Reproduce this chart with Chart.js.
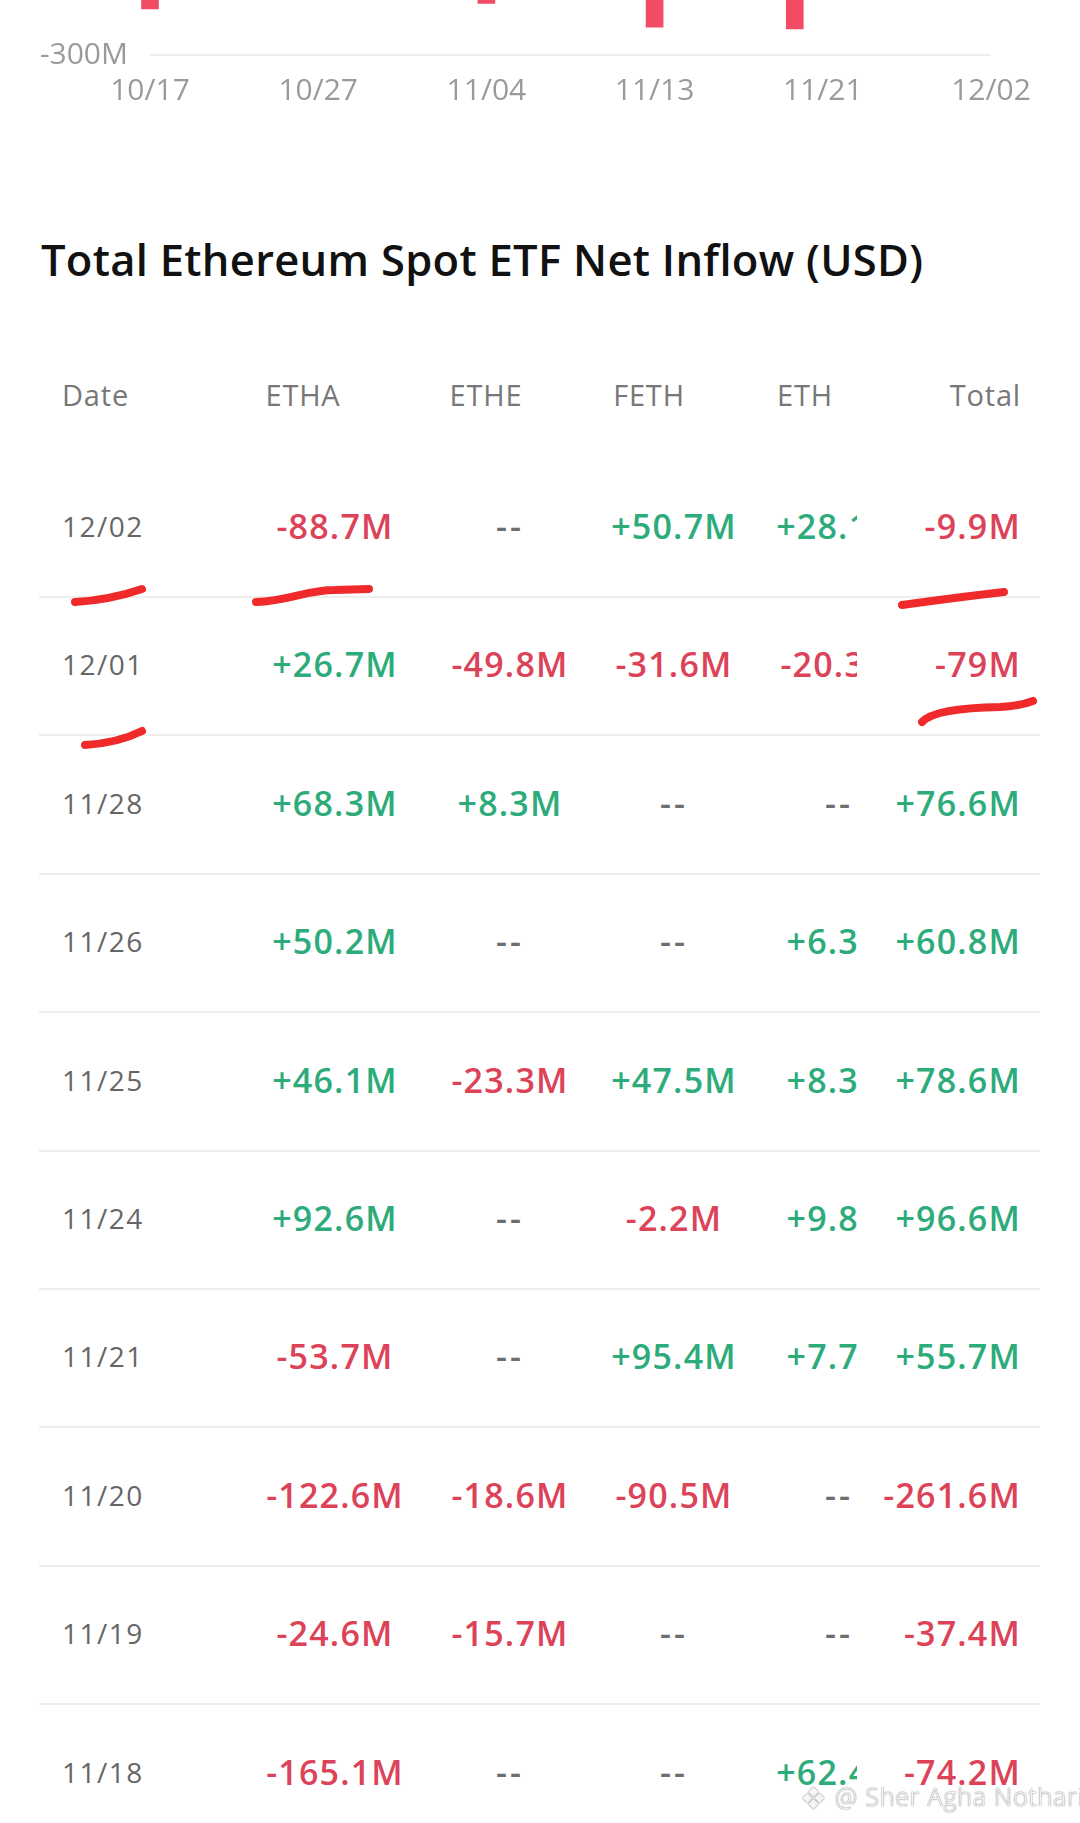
<!DOCTYPE html>
<html>
<head>
<meta charset="utf-8">
<script src="https://cdn.jsdelivr.net/npm/chart.js@4.4.0/dist/chart.umd.min.js"></script>
<style>
  html, body { margin:0; padding:0; background:#fff; }
  body { width:1080px; height:1823px; position:relative; overflow:hidden; font-family:"Open Sans", sans-serif; }
  #chartWrap { position:absolute; left:0; width:1080px; height:520px; }
  #title { position:absolute; left:41px; top:230px; font-size:43.5px; font-weight:600; color:#111; white-space:nowrap; letter-spacing:0.3px; }
  .hdr { position:absolute; font-size:29px; color:#777; white-space:nowrap; line-height:40px; letter-spacing:0.8px; }
  .cell { position:absolute; white-space:nowrap; line-height:46px; font-size:34px; font-weight:600; letter-spacing:1.2px; }
  .date { font-weight:400; color:#666; font-size:28px; letter-spacing:1.5px; }
  .dash { letter-spacing:3px; }
  .sep { position:absolute; left:39px; width:1001px; height:2px; background:#eeeeee; }
  .clipbox { position:absolute; overflow:hidden; height:46px; }
  #marks { position:absolute; left:0; top:0; }
  #wmLogo { position:absolute; left:800px; top:1777px; font-size:30px; color:rgba(255,255,255,0.9);
        text-shadow: 0 0 1px #999, 0 0 1px #999, 0 0 2px rgba(0,0,0,0.3); }
  #wm { position:absolute; left:835px; top:1779px; font-size:25px; font-weight:300; color:rgba(255,255,255,0.9); white-space:nowrap; letter-spacing:0.8px;
        text-shadow: 0 0 1px #999, 0 0 1px #999, 0 0 2px rgba(0,0,0,0.3); }
</style>
</head>
<body>
<div id="chartWrap"><canvas id="c"></canvas></div>
<div id="title">Total Ethereum Spot ETF Net Inflow (USD)</div>
<div id="table"></div>
<svg id="marks" width="1080" height="1823"></svg>
<div id="wmLogo">&#x2756;</div>
<div id="wm">@ Sher Agha Nothari</div>
<script>
// ---- Bar chart data (daily total net inflow, $M) ----
const barDates = ['10/17','10/20','10/21','10/22','10/23','10/24','10/27','10/28','10/29','10/30','10/31',
                  '11/03','11/04','11/05','11/06','11/07','11/10','11/12','11/13','11/14','11/17',
                  '11/18','11/19','11/20','11/21','11/24','11/25','11/26','11/28','12/01','12/02'];
const barValues = [-232.3, -145.7, 141.7, -18.8, -93.6, -4.6, 133.9, 246.0, -81.4, -184.2, -98.2,
                   -135.8, -224.0, -118.5, 12.5, 46.6, 105.2, -183.7, -259.0, -177.9, -182.8,
                   -74.2, -37.4, -261.6, 55.7, 96.6, 78.6, 60.8, 76.6, -79.0, -9.9];
const yTicks = [-300, 0, 300];

// ---- Table data ----
const tableHeaders = ['Date','ETHA','ETHE','FETH','ETH','Total'];
const rowDates = ['12/02','12/01','11/28','11/26','11/25','11/24','11/21','11/20','11/19','11/18'];
const ethaVals = [-88.7, 26.7, 68.3, 50.2, 46.1, 92.6, -53.7, -122.6, -24.6, -165.1];
const etheVals = [null, -49.8, 8.3, null, -23.3, null, null, -18.6, -15.7, null];
const fethVals = [50.7, -31.6, null, null, 47.5, -2.2, 95.4, -90.5, null, null];
const ethVals  = [28.1, -20.3, null, 6.3, 8.3, 9.8, 7.7, null, null, 62.4];
const totalVals = [-9.9, -79, 76.6, 60.8, 78.6, 96.6, 55.7, -261.6, -37.4, -74.2];

const RED = '#dc4359', GREEN = '#2dab7b', DASH = '#6e6e6e';

// ---- Chart ----
const AXIS_Y = 55; // page y of -300M gridline
const chart = new Chart(document.getElementById('c'), {
  type: 'bar',
  data: {
    labels: barDates,
    datasets: [{
      data: barValues,
      backgroundColor: barValues.map(v => v < 0 ? '#f24b64' : '#2dab7b'),
      barThickness: 17,
      clip: false
    }]
  },
  options: {
    responsive: true,
    maintainAspectRatio: false,
    animation: false,
    events: [],
    layout: { padding: { left: 0, right: 89, top: 20, bottom: 0 } },
    plugins: { legend: { display: false }, tooltip: { enabled: false } },
    scales: {
      x: {
        offset: false,
        grid: { display: false, drawTicks: false },
        border: { display: false },
        ticks: {
          autoSkip: false, maxRotation: 0, padding: 18,
          color: '#9a9a9a', font: { family: 'Open Sans', size: 30 },
          callback: function(v, i) { return i % 6 === 0 ? barDates[i] : ''; }
        }
      },
      y: {
        min: -300, max: 300,
        afterBuildTicks: s => { s.ticks = yTicks.map(v => ({ value: v })); },
        afterFit: s => { s.width = 150; },
        grid: { color: '#eeeeee', lineWidth: 2, drawTicks: false },
        border: { display: false },
        ticks: {
          padding: 22, color: '#9a9a9a', font: { family: 'Open Sans', size: 30 },
          callback: v => v + 'M'
        }
      }
    }
  }
});
// Position the canvas so the -300M gridline sits at AXIS_Y
document.getElementById('chartWrap').style.top = (AXIS_Y - chart.chartArea.bottom) + 'px';

// ---- Table ----
const tbl = document.getElementById('table');
function fmt(v) {
  if (v === null) return '--';
  const s = Number.isInteger(v) ? Math.abs(v).toString() : Math.abs(v).toFixed(1);
  return (v < 0 ? '-' : '+') + s + 'M';
}
function color(v) { return v === null ? DASH : (v < 0 ? RED : GREEN); }
function addEl(cls, text, style, parent) {
  const d = document.createElement('div');
  d.className = cls; d.textContent = text;
  Object.assign(d.style, style);
  (parent || tbl).appendChild(d); return d;
}
const HEADER_Y = 395, ROW0_Y = 526, ROW_H = 138.4;
const TOTAL_R = 1021;
const hdrPos = [
  { left: '62px' },
  { left: '303px', transform: 'translateX(-50%)' },
  { left: '486px', transform: 'translateX(-50%)' },
  { left: '649px', transform: 'translateX(-50%)' },
  { left: '805px', transform: 'translateX(-50%)' },
  { right: (1080 - TOTAL_R) + 'px' }
];
tableHeaders.forEach((h, i) => {
  addEl('hdr', h, Object.assign({ top: (HEADER_Y - 20) + 'px' }, hdrPos[i]));
});
const centers = { etha: 335, ethe: 510, feth: 674, eth: 839 };
const CLIP_L = 740, CLIP_R = 857;
rowDates.forEach((d, r) => {
  const cy = ROW0_Y + r * ROW_H;
  const top = (cy - 23) + 'px';
  addEl('cell date', d, { top: top, left: '62px' });
  [['etha', ethaVals], ['ethe', etheVals], ['feth', fethVals]].forEach(([k, arr]) => {
    const v = arr[r];
    addEl('cell' + (v === null ? ' dash' : ''), fmt(v), { top: top, left: centers[k] + 'px', transform: 'translateX(-50%)', color: color(v) });
  });
  // ETH column: clipped by the Total column
  const box = document.createElement('div');
  box.className = 'clipbox';
  Object.assign(box.style, { top: top, left: CLIP_L + 'px', width: (CLIP_R - CLIP_L) + 'px' });
  tbl.appendChild(box);
  const ev = ethVals[r];
  addEl('cell' + (ev === null ? ' dash' : ''), fmt(ev), { top: '0px', left: (centers.eth - CLIP_L) + 'px', transform: 'translateX(-50%)', color: color(ev) }, box);
  const tv = totalVals[r];
  addEl('cell', fmt(tv), { top: top, right: (1080 - TOTAL_R) + 'px', color: color(tv) });
  if (r < rowDates.length - 1) {
    addEl('sep', '', { top: (cy + 70) + 'px' });
  }
});

// ---- Hand-drawn red underlines (annotation) ----
const strokes = [
  'M75 602 Q110 600 142 589',
  'M256 602 C290 601 305 590 335 590 L369 589',
  'M902 605 Q960 597 1004 592',
  'M85 745 Q118 743 142 731',
  'M922 722 Q935 708 1000 707 Q1020 706 1033 701'
];
const svg = document.getElementById('marks');
strokes.forEach(p => {
  const el = document.createElementNS('http://www.w3.org/2000/svg', 'path');
  el.setAttribute('d', p);
  el.setAttribute('stroke', '#f02a2a');
  el.setAttribute('stroke-width', '8');
  el.setAttribute('stroke-linecap', 'round');
  el.setAttribute('fill', 'none');
  svg.appendChild(el);
});
</script>
</body>
</html>
